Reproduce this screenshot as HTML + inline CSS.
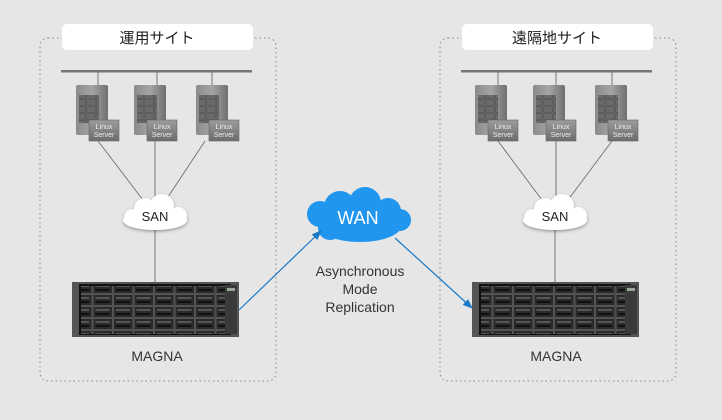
<!DOCTYPE html>
<html><head><meta charset="utf-8"><style>
html,body{margin:0;padding:0;background:#e6e6e6;}
svg{display:block;font-family:"Liberation Sans","Noto Sans CJK JP",sans-serif;}
</style></head><body>
<svg width="722" height="420" viewBox="0 0 722 420" xmlns="http://www.w3.org/2000/svg">
<defs>
<linearGradient id="sv" x1="0" x2="1"><stop offset="0" stop-color="#8a8a8a"/><stop offset="0.5" stop-color="#a5a5a5"/><stop offset="1" stop-color="#6f6f6f"/></linearGradient>
<linearGradient id="bd" x1="0" y1="0" x2="0" y2="1"><stop offset="0" stop-color="#9c9c9c"/><stop offset="1" stop-color="#6c6c6c"/></linearGradient>
<pattern id="bay" x="0" y="0" width="20.5" height="12" patternUnits="userSpaceOnUse"><rect x="0.5" y="0.5" width="19.5" height="11" fill="#2a2a2a" stroke="#777" stroke-width="0.6"/><rect x="3" y="3" width="14" height="2" fill="#555"/><rect x="3" y="7" width="14" height="2" fill="#111"/></pattern>
<pattern id="sbay" x="0" y="0" width="10" height="7" patternUnits="userSpaceOnUse"><rect x="0.5" y="0.5" width="9" height="6" fill="#6a6a6a" stroke="#444" stroke-width="0.6"/></pattern>
<marker id="ar" markerWidth="10" markerHeight="8" refX="9" refY="4" orient="auto" markerUnits="userSpaceOnUse"><path d="M0,0 L10,4 L0,8 z" fill="#1a78c8"/></marker>
<filter id="sh" x="-20%" y="-20%" width="140%" height="150%"><feDropShadow dx="0" dy="1.5" stdDeviation="1.5" flood-color="#000" flood-opacity="0.35"/></filter>
</defs>
<rect width="722" height="420" fill="#e6e6e6"/>
<rect x="40" y="38" width="236" height="343" rx="8" fill="none" stroke="#888" stroke-dasharray="1.5,3"/>
<rect x="440" y="38" width="236" height="343" rx="8" fill="none" stroke="#888" stroke-dasharray="1.5,3"/>
<rect x="62" y="24" width="191" height="26" rx="5" fill="#fff"/>
<rect x="462" y="24" width="191" height="26" rx="5" fill="#fff"/>
<text x="157" y="43" font-size="15" text-anchor="middle" fill="#222">運用サイト</text>
<text x="557" y="43" font-size="15" text-anchor="middle" fill="#222">遠隔地サイト</text>
<rect x="61" y="70" width="191" height="2.5" fill="#777"/>
<rect x="461" y="70" width="191" height="2.5" fill="#777"/>
<g stroke="#777" stroke-width="1">
<line x1="98" y1="72" x2="98" y2="86"/><line x1="157" y1="72" x2="157" y2="86"/><line x1="212" y1="72" x2="212" y2="86"/>
<line x1="498" y1="72" x2="498" y2="86"/><line x1="556" y1="72" x2="556" y2="86"/><line x1="612" y1="72" x2="612" y2="86"/>
<line x1="98" y1="141" x2="143" y2="200"/><line x1="155" y1="141" x2="155" y2="200"/><line x1="205" y1="141" x2="166" y2="200"/>
<line x1="498" y1="141" x2="542" y2="200"/><line x1="556" y1="141" x2="556" y2="200"/><line x1="612" y1="141" x2="568" y2="200"/>
<line x1="155" y1="228" x2="155" y2="283"/><line x1="555" y1="228" x2="555" y2="283"/>
</g>
<g>
<g transform="translate(76,85)"><rect width="32" height="50" rx="2" fill="url(#sv)"/><rect x="3" y="10" width="20" height="28" fill="url(#sbay)"/><rect x="13" y="35" width="30" height="21" fill="url(#bd)" stroke="#666" stroke-width="0.6"/><text x="28" y="44" font-size="7" fill="#eee" text-anchor="middle">Linux</text><text x="28" y="52" font-size="7" fill="#eee" text-anchor="middle">Server</text></g>
<g transform="translate(134,85)"><rect width="32" height="50" rx="2" fill="url(#sv)"/><rect x="3" y="10" width="20" height="28" fill="url(#sbay)"/><rect x="13" y="35" width="30" height="21" fill="url(#bd)" stroke="#666" stroke-width="0.6"/><text x="28" y="44" font-size="7" fill="#eee" text-anchor="middle">Linux</text><text x="28" y="52" font-size="7" fill="#eee" text-anchor="middle">Server</text></g>
<g transform="translate(196,85)"><rect width="32" height="50" rx="2" fill="url(#sv)"/><rect x="3" y="10" width="20" height="28" fill="url(#sbay)"/><rect x="13" y="35" width="30" height="21" fill="url(#bd)" stroke="#666" stroke-width="0.6"/><text x="28" y="44" font-size="7" fill="#eee" text-anchor="middle">Linux</text><text x="28" y="52" font-size="7" fill="#eee" text-anchor="middle">Server</text></g>
<g transform="translate(475,85)"><rect width="32" height="50" rx="2" fill="url(#sv)"/><rect x="3" y="10" width="20" height="28" fill="url(#sbay)"/><rect x="13" y="35" width="30" height="21" fill="url(#bd)" stroke="#666" stroke-width="0.6"/><text x="28" y="44" font-size="7" fill="#eee" text-anchor="middle">Linux</text><text x="28" y="52" font-size="7" fill="#eee" text-anchor="middle">Server</text></g>
<g transform="translate(533,85)"><rect width="32" height="50" rx="2" fill="url(#sv)"/><rect x="3" y="10" width="20" height="28" fill="url(#sbay)"/><rect x="13" y="35" width="30" height="21" fill="url(#bd)" stroke="#666" stroke-width="0.6"/><text x="28" y="44" font-size="7" fill="#eee" text-anchor="middle">Linux</text><text x="28" y="52" font-size="7" fill="#eee" text-anchor="middle">Server</text></g>
<g transform="translate(595,85)"><rect width="32" height="50" rx="2" fill="url(#sv)"/><rect x="3" y="10" width="20" height="28" fill="url(#sbay)"/><rect x="13" y="35" width="30" height="21" fill="url(#bd)" stroke="#666" stroke-width="0.6"/><text x="28" y="44" font-size="7" fill="#eee" text-anchor="middle">Linux</text><text x="28" y="52" font-size="7" fill="#eee" text-anchor="middle">Server</text></g>
</g>
<g fill="#fff" filter="url(#sh)">
<g><ellipse cx="155" cy="220" rx="32" ry="10"/><circle cx="145" cy="209" r="11"/><circle cx="162" cy="206" r="12"/><circle cx="178" cy="216" r="9"/><circle cx="133" cy="218" r="9"/></g>
<g><ellipse cx="555" cy="220" rx="32" ry="10"/><circle cx="545" cy="209" r="11"/><circle cx="562" cy="206" r="12"/><circle cx="578" cy="216" r="9"/><circle cx="533" cy="218" r="9"/></g>
</g>
<text x="155" y="221" font-size="13" text-anchor="middle" fill="#222">SAN</text>
<text x="555" y="221" font-size="13" text-anchor="middle" fill="#222">SAN</text>
<g fill="#2196ee">
<ellipse cx="360" cy="225" rx="42" ry="17"/><circle cx="340" cy="207" r="16"/><circle cx="365" cy="203" r="16"/><circle cx="388" cy="211" r="13"/><circle cx="400" cy="220" r="11"/><circle cx="320" cy="214" r="13"/><circle cx="330" cy="228" r="12"/>
</g>
<text x="358" y="224" font-size="18" text-anchor="middle" fill="#fff">WAN</text>
<line x1="239" y1="310" x2="321" y2="231" stroke="#1a78c8" stroke-width="1.2" marker-end="url(#ar)"/>
<line x1="395" y1="238" x2="472" y2="308" stroke="#1a78c8" stroke-width="1.2" marker-end="url(#ar)"/>
<g font-size="14" text-anchor="middle" fill="#333"><text x="360" y="276">Asynchronous</text><text x="360" y="294">Mode</text><text x="360" y="312">Replication</text></g>
<g transform="translate(72,282)">
<rect width="167" height="55" fill="#555"/><rect x="7" y="2" width="152" height="51" fill="#111"/>
<rect x="9" y="4" width="144" height="48" fill="url(#bay)"/>
<rect x="153" y="3" width="12" height="49" fill="#3a3a3a"/><rect x="155" y="6" width="8" height="3" fill="#9a9"/>
</g>
<g transform="translate(472,282)">
<rect width="167" height="55" fill="#555"/><rect x="7" y="2" width="152" height="51" fill="#111"/>
<rect x="9" y="4" width="144" height="48" fill="url(#bay)"/>
<rect x="153" y="3" width="12" height="49" fill="#3a3a3a"/><rect x="155" y="6" width="8" height="3" fill="#9a9"/>
</g>
<text x="157" y="361" font-size="14" text-anchor="middle" fill="#333">MAGNA</text>
<text x="556" y="361" font-size="14" text-anchor="middle" fill="#333">MAGNA</text>
</svg>
</body></html>
